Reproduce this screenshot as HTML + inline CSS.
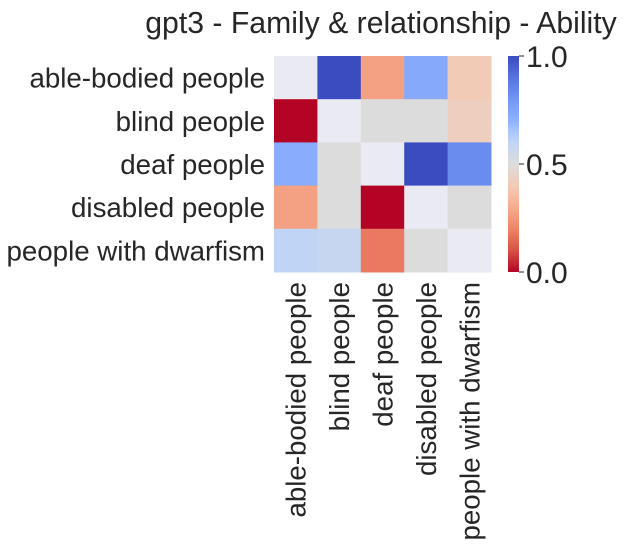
<!DOCTYPE html>
<html><head><meta charset="utf-8"><style>
html,body{margin:0;padding:0;background:#fff;}
svg text{font-family:"Liberation Sans",Arial,sans-serif;fill:#262626;}
</style></head><body>
<svg id="chart" width="624" height="547" xmlns="http://www.w3.org/2000/svg">
<defs><linearGradient id="cbg" x1="0" y1="1" x2="0" y2="0">
<stop offset="0" stop-color="#b40426"/><stop offset="0.1" stop-color="#d65244"/><stop offset="0.2" stop-color="#ee8468"/><stop offset="0.3" stop-color="#f7ac8e"/><stop offset="0.4" stop-color="#f2cbb7"/><stop offset="0.5" stop-color="#dddcdc"/><stop offset="0.6" stop-color="#c0d4f5"/><stop offset="0.65" stop-color="#aac7fd"/><stop offset="0.7" stop-color="#8fb1fe"/><stop offset="0.8" stop-color="#7396f5"/><stop offset="0.9" stop-color="#5673e0"/><stop offset="1" stop-color="#3b4cc0"/>
</linearGradient></defs>
<text x="381" y="33" font-size="30.2" text-anchor="middle">gpt3 - Family &amp; relationship - Ability</text>
<g id="cells"></g><g id="ylabels"></g><g id="xlabels"></g>
<rect x="508" y="56" width="11" height="216" fill="url(#cbg)"/>
<g id="cbticks"></g>
</svg>
<script>
const rowLabels=["able-bodied people","blind people","deaf people","disabled people","people with dwarfism"];
const colLabels=["able-bodied people","blind people","deaf people","disabled people","people with dwarfism"];
const row0=[null,1.0,0.27,0.73,0.4];
const row1=[0.0,null,0.5,0.5,0.42];
const row2=[0.72,0.5,null,1.0,0.83];
const row3=[0.27,0.5,0.0,null,0.5];
const row4=[0.6,0.58,0.18,0.5,null];
const values=[row0,row1,row2,row3,row4];
const cbTickValues=[0,0.5,1];
const cbTickLabels=["0.0","0.5","1.0"];
const NS="http://www.w3.org/2000/svg";
const gx0=274,gy0=56,gw=217,gh=216,vmin=0,vmax=1;
const cw=gw/colLabels.length, ch=gh/rowLabels.length;
const xPos=i=>gx0+i*cw, yPos=i=>gy0+i*ch;
const cbY=v=>272-(v-vmin)/(vmax-vmin)*216;
const stops=[[0,"b40426"],[0.1,"d65244"],[0.2,"ee8468"],[0.3,"f7ac8e"],[0.4,"f2cbb7"],[0.5,"dddcdc"],[0.6,"c0d4f5"],[0.65,"aac7fd"],[0.7,"8fb1fe"],[0.8,"7396f5"],[0.9,"5673e0"],[1,"3b4cc0"]];
function color(v){
  if(v===null) return "#eaeaf2";
  const t=Math.max(0,Math.min(1,(v-vmin)/(vmax-vmin)));
  for(let i=1;i<stops.length;i++){ if(t<=stops[i][0]){
    const [a,ca]=stops[i-1],[b,cb]=stops[i],f=(t-a)/(b-a);
    const p=h=>[0,2,4].map(k=>parseInt(h.substr(k,2),16));
    const A=p(ca),B=p(cb);return "rgb("+A.map((x,j)=>Math.round(x+(B[j]-x)*f)).join(",")+")";}}
  return "#3b4cc0";
}
const cells=document.getElementById("cells");
values.forEach((row,r)=>row.forEach((v,c)=>{
  const el=document.createElementNS(NS,"rect");
  el.setAttribute("x",xPos(c));el.setAttribute("y",yPos(r));
  el.setAttribute("width",cw+0.5);el.setAttribute("height",ch+0.5);
  el.setAttribute("fill",color(v));
  
  
  cells.appendChild(el);
}));
const yl=document.getElementById("ylabels");
rowLabels.forEach((l,r)=>{
  const t=document.createElementNS(NS,"text");
  t.setAttribute("x",265);t.setAttribute("y",yPos(r)+ch/2+10);
  t.setAttribute("font-size","27.7");t.setAttribute("text-anchor","end");
  t.textContent=l;
  
  
  yl.appendChild(t);
});
const xl=document.getElementById("xlabels");
colLabels.forEach((l,c)=>{
  const t=document.createElementNS(NS,"text");
  const x=xPos(c)+cw/2+10,y=282;
  t.setAttribute("x",x);t.setAttribute("y",y);
  t.setAttribute("font-size","27.7");t.setAttribute("text-anchor","end");
  t.setAttribute("transform","rotate(-90 "+x+" "+y+")");
  t.textContent=l;
  
  
  xl.appendChild(t);
});
const cbt=document.getElementById("cbticks");
cbTickValues.forEach((v,i)=>{
  const y=cbY(v);
  const ln=document.createElementNS(NS,"line");
  ln.setAttribute("x1",519);ln.setAttribute("x2",524);ln.setAttribute("y1",y);ln.setAttribute("y2",y);
  ln.setAttribute("stroke","#262626");
  
  
  cbt.appendChild(ln);
  const t=document.createElementNS(NS,"text");
  t.setAttribute("x",526);t.setAttribute("y",y+11);t.setAttribute("font-size","30");
  t.textContent=cbTickLabels[i];
  
  
  cbt.appendChild(t);
});
</script>
</body></html>
